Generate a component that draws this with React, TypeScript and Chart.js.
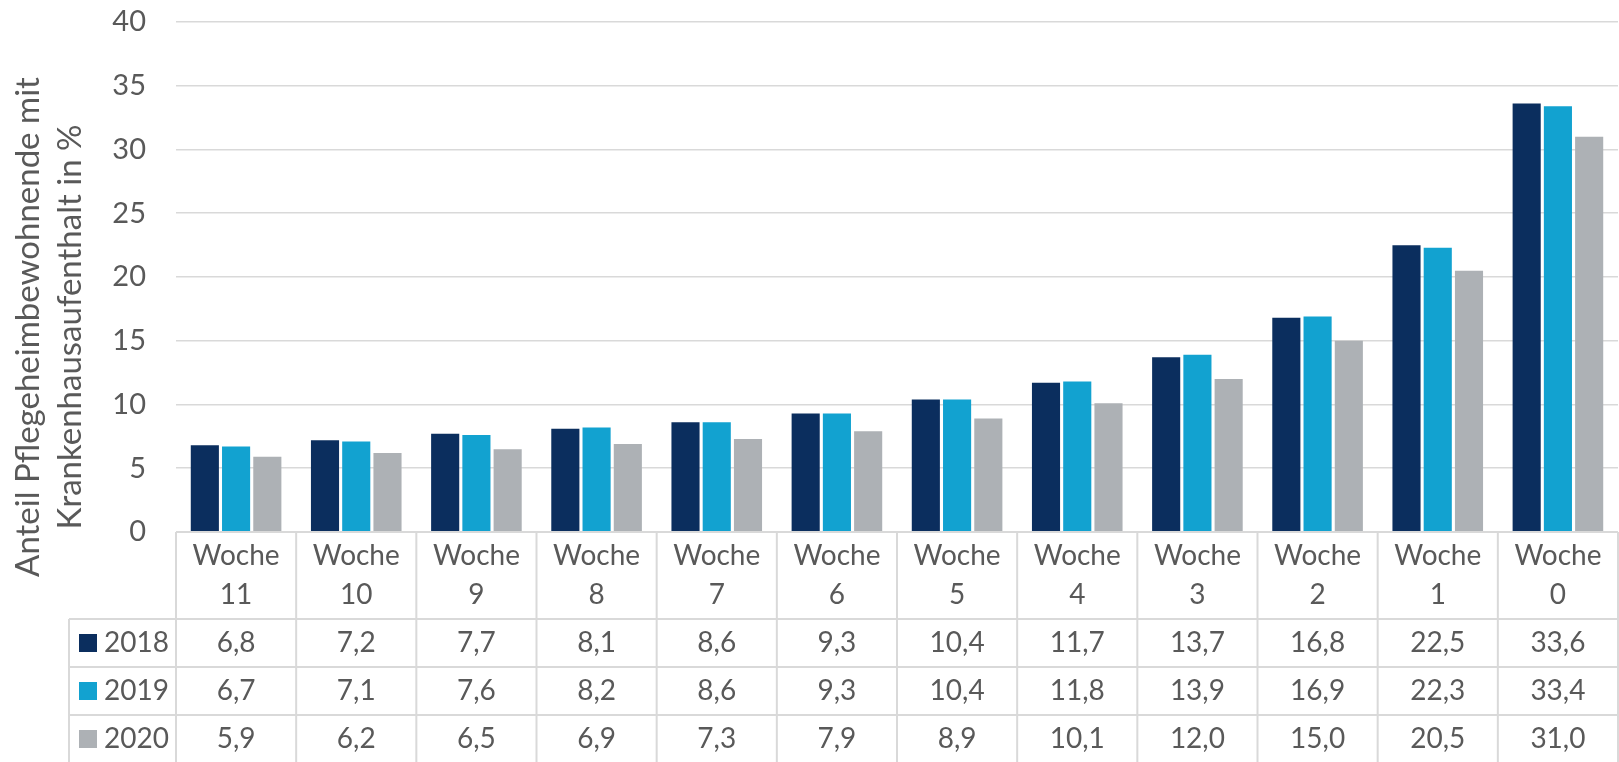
import React, { useEffect, useRef } from "react";
import { Chart, registerables } from "chart.js";

Chart.register(...registerables);

const categories: string[][] = [
  ["Woche", "11"], ["Woche", "10"], ["Woche", "9"], ["Woche", "8"],
  ["Woche", "7"], ["Woche", "6"], ["Woche", "5"], ["Woche", "4"],
  ["Woche", "3"], ["Woche", "2"], ["Woche", "1"], ["Woche", "0"],
];
const seriesNames = ["2018", "2019", "2020"];
const values2018 = [6.8, 7.2, 7.7, 8.1, 8.6, 9.3, 10.4, 11.7, 13.7, 16.8, 22.5, 33.6];
const values2019 = [6.7, 7.1, 7.6, 8.2, 8.6, 9.3, 10.4, 11.8, 13.9, 16.9, 22.3, 33.4];
const values2020 = [5.9, 6.2, 6.5, 6.9, 7.3, 7.9, 8.9, 10.1, 12.0, 15.0, 20.5, 31.0];
const colors = ["#0b2e5e", "#12a2d0", "#adb1b5"];
const yTitleLines = ["Anteil Pflegeheimbewohnende mit", "Krankenhausaufenthalt in %"];

const FONT = "Lato";
const TEXT = "#595959";
const LINE = "#d9d9d9";

const fmt = (v: number) => v.toFixed(1).replace(".", ",");

const tablePlugin = {
  id: "dataTable",
  afterDraw(chart: any) {
    const ctx = chart.ctx as CanvasRenderingContext2D;
    const area = chart.chartArea;
    const xs = chart.scales.x;
    const n = categories.length;
    const half = (xs.getPixelForValue(1) - xs.getPixelForValue(0)) / 2;
    const top = area.bottom;
    const catBottom = top + 87;
    const rowH = 48;
    const legendLeft = 69;
    const bottom = chart.height + 5;
    const datasets = chart.data.datasets;

    ctx.save();
    ctx.strokeStyle = LINE;
    ctx.lineWidth = 2;
    ctx.beginPath();
    ctx.moveTo(area.left, top);
    ctx.lineTo(area.right, top);
    for (let r = 0; r < datasets.length; r++) {
      const y = catBottom + r * rowH;
      ctx.moveTo(legendLeft, y);
      ctx.lineTo(area.right, y);
    }
    for (let i = 0; i <= n; i++) {
      const x = i < n ? xs.getPixelForValue(i) - half : xs.getPixelForValue(n - 1) + half;
      ctx.moveTo(x, top);
      ctx.lineTo(x, bottom);
    }
    ctx.moveTo(legendLeft, catBottom);
    ctx.lineTo(legendLeft, bottom);
    ctx.stroke();

    ctx.fillStyle = TEXT;
    ctx.font = `28px ${FONT}`;
    ctx.textAlign = "center";
    ctx.textBaseline = "middle";
    for (let i = 0; i < n; i++) {
      const cx = xs.getPixelForValue(i);
      ctx.fillText(categories[i][0], cx, top + 24);
      ctx.fillText(categories[i][1], cx, top + 63);
    }
    for (let r = 0; r < datasets.length; r++) {
      const cy = catBottom + r * rowH + 24;
      const ds = datasets[r];
      for (let i = 0; i < n; i++) {
        ctx.fillStyle = TEXT;
        ctx.textAlign = "center";
        ctx.fillText(fmt(ds.data[i]), xs.getPixelForValue(i), cy);
      }
      ctx.fillStyle = ds.backgroundColor;
      ctx.fillRect(79, cy - 9, 18, 18);
      ctx.fillStyle = TEXT;
      ctx.textAlign = "left";
      ctx.fillText(ds.label, 104, cy);
    }

    ctx.save();
    ctx.translate(0, 327);
    ctx.rotate(-Math.PI / 2);
    ctx.textAlign = "center";
    ctx.textBaseline = "alphabetic";
    ctx.font = `33px ${FONT}`;
    ctx.fillStyle = TEXT;
    ctx.fillText(yTitleLines[0], 0, 39);
    ctx.fillText(yTitleLines[1], 0, 81);
    ctx.restore();
    ctx.restore();
  },
};

export default function App() {
  const ref = useRef<HTMLCanvasElement>(null);
  useEffect(() => {
    document.body.style.margin = "0";
    const seriesValues = [values2018, values2019, values2020];
    const chart = new Chart(ref.current!, {
      type: "bar",
      data: {
        labels: categories.map((c) => c.join(" ")),
        datasets: seriesNames.map((name, i) => ({
          label: name,
          data: seriesValues[i],
          backgroundColor: colors[i],
          barPercentage: 0.9,
          categoryPercentage: 0.78,
        })),
      },
      options: {
        animation: false,
        responsive: false,
        layout: { padding: { top: 22, left: 0, right: 1, bottom: 230 } },
        plugins: { legend: { display: false }, tooltip: { enabled: false } },
        scales: {
          x: { display: false },
          y: {
            min: 0,
            max: 40,
            ticks: { stepSize: 5, color: TEXT, font: { family: FONT, size: 29 }, padding: 30 },
            grid: { color: LINE, lineWidth: 1.6, drawTicks: false },
            border: { display: false },
            afterFit: (s: any) => {
              s.width = 176;
              s.paddingTop = 0;
              s.paddingBottom = 0;
            },
          },
        },
      },
      plugins: [tablePlugin],
    });
    return () => chart.destroy();
  }, []);
  return (
    <div style={{ width: 1619, height: 762, background: "#fff" }}>
      <canvas ref={ref} width={1619} height={762} style={{ display: "block" }} />
    </div>
  );
}
